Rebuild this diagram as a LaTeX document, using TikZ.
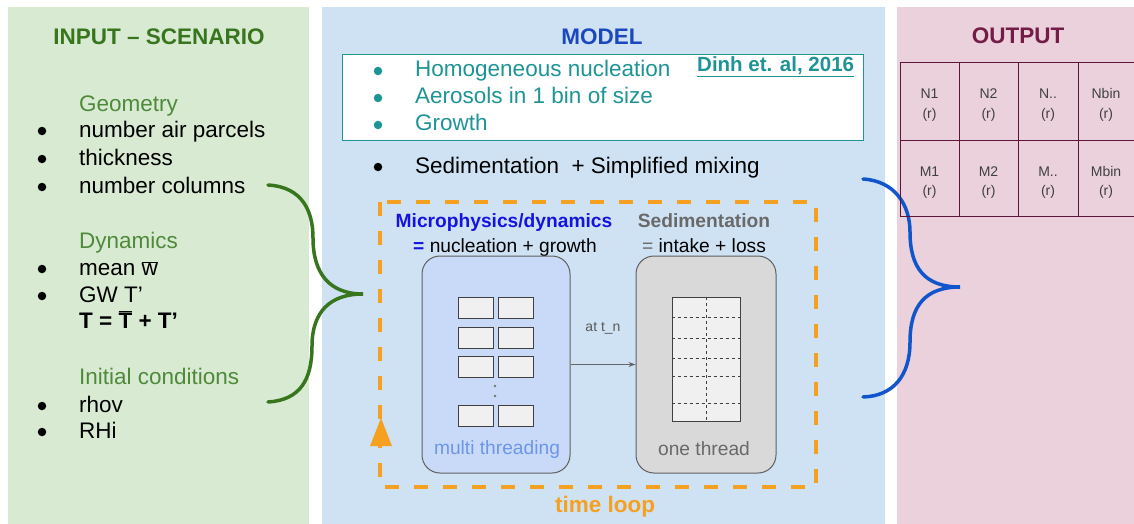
\documentclass[tikz,border=0pt]{standalone}
\usepackage{fontspec}
\setmainfont{Liberation Sans}
\usetikzlibrary{arrows.meta}
\definecolor{pgreen}{RGB}{217,234,211}
\definecolor{pblue}{RGB}{207,226,243}
\definecolor{ppink}{RGB}{234,209,220}
\definecolor{tgreen}{RGB}{56,118,29}
\definecolor{sgreen}{RGB}{78,138,58}
\definecolor{tblue}{RGB}{28,72,190}
\definecolor{teal}{RGB}{30,148,150}
\definecolor{maroon}{RGB}{116,27,71}
\definecolor{mblue}{RGB}{20,20,225}
\definecolor{mgray}{RGB}{105,105,105}
\definecolor{lblue}{RGB}{201,218,248}
\definecolor{thblue}{RGB}{109,150,232}
\definecolor{orng}{RGB}{245,160,32}
\definecolor{bblue}{RGB}{17,85,204}
\definecolor{bord}{RGB}{95,95,95}
\newcommand\ovl[1]{$\overline{\hbox{#1}}$}
\newcommand\bigf{\fontsize{22.5}{27}\selectfont}
\newcommand\midf{\fontsize{19.2}{23}\selectfont}
\newcommand\smlf{\fontsize{14}{17}\selectfont}
\tikzset{
  txt/.style={inner sep=0pt,anchor=base west,font=\bigf},
  bul/.style={circle,fill=black,inner sep=0pt,minimum size=8.5pt},
  ttl/.style={inner sep=0pt,anchor=base,font=\bigf\bfseries},
  cell/.style={inner sep=0pt,anchor=base,font=\smlf,text=black!75},
  small/.style={draw=black!75,fill=black!6,line width=0.9pt,minimum width=35pt,minimum height=21pt,inner sep=0pt},
  rbox/.style={draw=bord,line width=1pt,rounded corners=18pt,minimum width=148pt,minimum height=217pt,inner sep=0pt},
}
\begin{document}
\begin{tikzpicture}[x=1pt,y=-1pt]
\useasboundingbox (0,0) rectangle (1134,524);
\fill[white] (0,0) rectangle (1134,524);
% panels
\fill[pgreen] (8,7) rectangle (309,524);
\fill[pblue] (322,7) rectangle (885,524);
\fill[ppink] (897,7) rectangle (1134,524);

% ---------- INPUT ----------
\node[ttl,text=tgreen] (tin) at (159,45) {INPUT – SCENARIO};
\node[txt,text=sgreen] (geo) at (79,112) {Geometry};
\node[bul] (b1) at (42,131) {};
\node[txt] (i1) at (79,137) {number air parcels};
\node[bul] (b2) at (42,159) {};
\node[txt] (i2) at (79,165) {thickness};
\node[bul] (b3) at (42,187) {};
\node[txt] (i3) at (79,193) {number columns};
\node[txt,text=sgreen] (dyn) at (79,248) {Dynamics};
\node[bul] (b4) at (42,269) {};
\node[txt] (i4) at (79,275) {mean \ovl{w}};
\node[bul] (b5) at (42,296) {};
\node[txt] (i5) at (79,302) {GW T'};
\node[txt,font=\bigf\bfseries] (i6) at (79,328) {T = \ovl{T} + T'};
\node[txt,text=sgreen] (ini) at (79,384) {Initial conditions};
\node[bul] (b7) at (42,406) {};
\node[txt] (i7) at (79,412) {rhov};
\node[bul] (b8) at (42,432) {};
\node[txt] (i8) at (79,438) {RHi};

% green brace
\draw[tgreen,line width=3.5pt,line cap=round]
  (268,185) .. controls (303,187) and (313,212) .. (313,238)
  .. controls (313,274) and (330,294) .. (363,294)
  .. controls (330,294) and (312,312) .. (312,346)
  .. controls (312,380) and (300,400) .. (268,402);

% ---------- MODEL ----------
\node[ttl,text=tblue] (tmod) at (602,45) {MODEL};
\node[draw=teal,fill=white,line width=1pt,minimum width=521pt,minimum height=85pt,inner sep=0pt] (mbox) at (602.5,97.5) {};
\node[bul,fill=teal] (m1b) at (378,71) {};
\node[txt,text=teal] (m1) at (415,77) {Homogeneous nucleation};
\node[bul,fill=teal] (m2b) at (378,98) {};
\node[txt,text=teal] (m2) at (415,104) {Aerosols in 1 bin of size};
\node[bul,fill=teal] (m3b) at (378,125) {};
\node[txt,text=teal] (m3) at (415,131) {Growth};
\node[txt,text=teal,font=\fontsize{20.5}{24}\selectfont\bfseries] (dinh) at (697,72) {\underline{Dinh et. al, 2016}};
\node[bul] (m4b) at (378,167) {};
\node[txt] (m4) at (415,173) {Sedimentation\ \ + Simplified mixing};

% time loop
\draw[orng,line width=4.5pt,dash pattern=on 14pt off 15pt] (380,202) rectangle (816,487);
\fill[orng] (381,418) -- (392,446) -- (370,446) -- cycle;
\node[ttl,text=orng] (tloop) at (605,512) {time loop};

\node[inner sep=0pt,anchor=base,font=\midf\bfseries,text=mblue] (micro) at (504,227) {Microphysics/dynamics};
\node[inner sep=0pt,anchor=base,font=\midf] (micro2) at (505,252) {\textcolor{mblue}{\textbf{=}} nucleation + growth};
\node[inner sep=0pt,anchor=base,font=\midf\bfseries,text=mgray] (sedi) at (704,227) {Sedimentation};
\node[inner sep=0pt,anchor=base,font=\midf] (sedi2) at (704,252) {\textcolor{mgray}{=} intake + loss};

\node[rbox,fill=lblue] (lbox) at (496,364.5) {};
\node[rbox,fill=black!15,minimum width=140pt] (rbx) at (706,364.5) {};

\node[small] (s11) at (475.5,307.5) {};
\node[small] (s12) at (515.5,307.5) {};
\node[small] (s21) at (475.5,337.5) {};
\node[small] (s22) at (515.5,337.5) {};
\node[small] (s31) at (475.5,366.5) {};
\node[small] (s32) at (515.5,366.5) {};
\node[small] (s41) at (475.5,415.5) {};
\node[small] (s42) at (515.5,415.5) {};
\fill[black!55] (495,386) circle (1.3pt) (495,396) circle (1.3pt);
\node[inner sep=0pt,anchor=base,font=\midf,text=thblue] (mt) at (497,454) {multi threading};

\node[draw=black!75,fill=black!6,line width=0.8pt,minimum width=68pt,minimum height=124pt,inner sep=0pt] (col) at (706,359) {};
\foreach \yy in {317,338,358,376,403}
  \draw[black!75,dashed,line width=0.7pt] (col.west |- 0,\yy) -- (col.east |- 0,\yy);
\draw[black!75,dashed,line width=0.7pt] (col.north) -- (col.south);
\node[inner sep=0pt,anchor=base,font=\midf,text=mgray] (ot) at (704,455) {one thread};

\draw[-{Stealth[length=7pt,width=5pt]},black!60,line width=0.8pt] (lbox.east) -- (rbx.west);
\node[inner sep=0pt,font=\smlf,text=black!65] (atn) at (603,328) {at t\_n};

% blue brace
\draw[bblue,line width=3.5pt,line cap=round]
  (863,179) .. controls (895,181) and (910,205) .. (910,232)
  .. controls (910,268) and (925,287) .. (960,287)
  .. controls (925,287) and (910,306) .. (910,342)
  .. controls (910,376) and (893,396) .. (863,397);

% ---------- OUTPUT ----------
\node[ttl,text=maroon] (tout) at (1018,44) {OUTPUT};
\draw[maroon!80!black,line width=0.8pt] (900,62) -- (1134,62) (900,140) -- (1134,140) (900,216) -- (1134,216)
  (900,62) -- (900,216) (959,62) -- (959,216) (1018,62) -- (1018,216) (1078,62) -- (1078,216);
\node[cell] (n1) at (929.5,99) {N1};   \node[cell] (n1r) at (929.5,118) {(r)};
\node[cell] (n2) at (988.5,99) {N2};   \node[cell] (n2r) at (988.5,118) {(r)};
\node[cell] (n3) at (1048,99) {N..};   \node[cell] (n3r) at (1048,118) {(r)};
\node[cell] (n4) at (1106,99) {Nbin};  \node[cell] (n4r) at (1106,118) {(r)};
\node[cell] (q1) at (929.5,176) {M1};  \node[cell] (q1r) at (929.5,195) {(r)};
\node[cell] (q2) at (988.5,176) {M2};  \node[cell] (q2r) at (988.5,195) {(r)};
\node[cell] (q3) at (1048,176) {M..};  \node[cell] (q3r) at (1048,195) {(r)};
\node[cell] (q4) at (1106,176) {Mbin}; \node[cell] (q4r) at (1106,195) {(r)};
\end{tikzpicture}
\end{document}
